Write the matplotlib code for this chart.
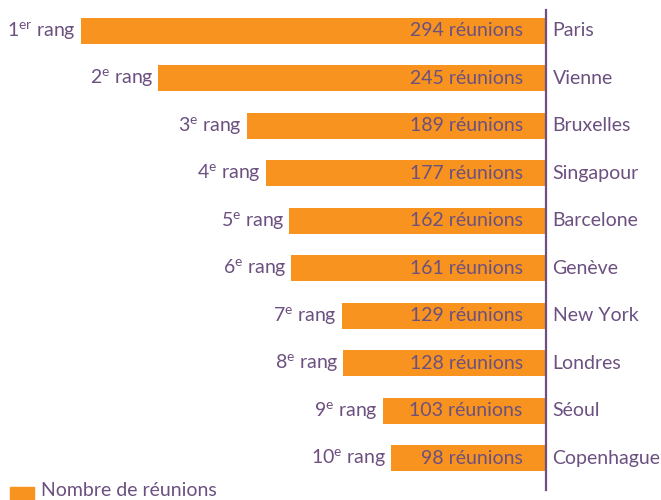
import matplotlib.pyplot as plt
from matplotlib.patches import Rectangle

villes = ['Paris', 'Vienne', 'Bruxelles', 'Singapour', 'Barcelone',
          'Genève', 'New York', 'Londres', 'Séoul', 'Copenhague']
reunions = [294, 245, 189, 177, 162, 161, 129, 128, 103, 98]
rangs = ['1$^{\\mathrm{er}}$ rang', '2$^{\\mathrm{e}}$ rang', '3$^{\\mathrm{e}}$ rang',
         '4$^{\\mathrm{e}}$ rang', '5$^{\\mathrm{e}}$ rang', '6$^{\\mathrm{e}}$ rang',
         '7$^{\\mathrm{e}}$ rang', '8$^{\\mathrm{e}}$ rang', '9$^{\\mathrm{e}}$ rang',
         '10$^{\\mathrm{e}}$ rang']

orange = '#F7931E'
violet = '#6B5080'

plt.rcParams['font.family'] = ['Lato', 'DejaVu Sans']
plt.rcParams['mathtext.fontset'] = 'custom'
plt.rcParams['mathtext.rm'] = 'Lato'

fig = plt.figure(figsize=(6.61, 5), dpi=100)
ax = fig.add_axes([0, 0, 1, 1])
ax.set_xlim(345, -73)   # barres vers la gauche, axe à droite
ax.set_ylim(9.88, -0.65)
ax.axis('off')

y = list(range(len(villes)))
ax.barh(y, reunions, height=0.55, color=orange)

fs = 14
for i, (v, r, n) in enumerate(zip(villes, rangs, reunions)):
    ax.text(n + 3, i, r, ha='right', va='center', color=violet, fontsize=fs)
    ax.text(14.5, i, f'{n} réunions', ha='right', va='center', color=violet, fontsize=fs)
    ax.text(-4.4, i, v, ha='left', va='center', color=violet, fontsize=fs)

# ligne verticale
ax.plot([0, 0], [-0.44, 9.66], color=violet, lw=1.6)

# légende
fig.patches.append(Rectangle((10 / 661, 0.0), 24 / 661, 13 / 500,
                             transform=fig.transFigure, color=orange))
fig.text(41 / 661, 0.003, 'Nombre de réunions', color=violet, fontsize=fs,
         ha='left', va='bottom')

plt.savefig('out.png', dpi=100)
